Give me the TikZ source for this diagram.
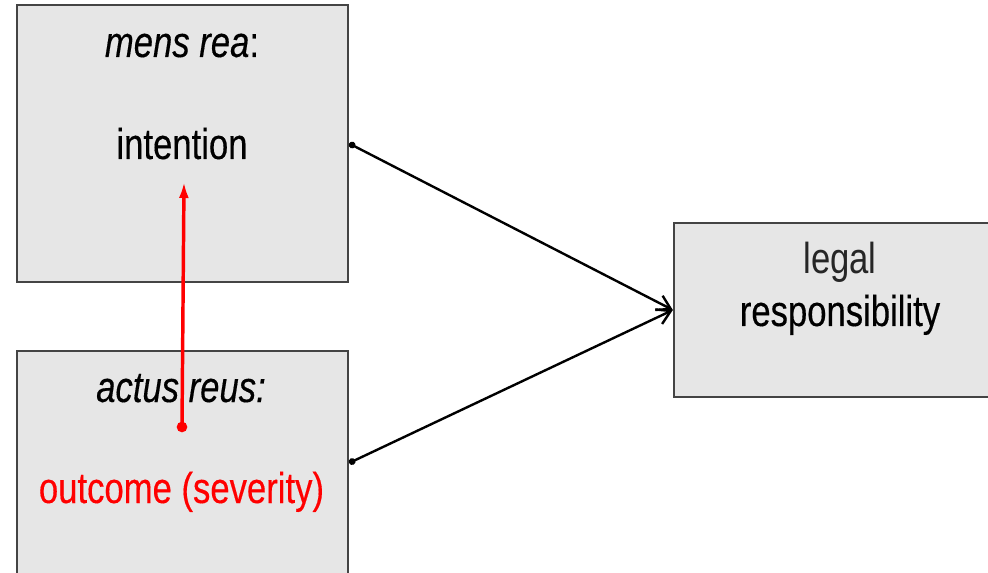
\documentclass[tikz,border=0pt]{standalone}
\usepackage{fontspec}
\setmainfont[FakeStretch=0.8,FakeBold=0.3]{Liberation Sans}
\newfontfamily\lightfont[FakeStretch=0.8]{Liberation Sans}
\usetikzlibrary{arrows.meta}
\definecolor{boxgray}{HTML}{E6E6E6}
\definecolor{edgegray}{HTML}{444444}
\begin{document}
\begin{tikzpicture}[x=0.75pt,y=-0.75pt,
  box/.style={draw=edgegray,line width=1.7pt,fill=boxgray,inner sep=0},
  txt/.style={anchor=base,inner sep=0,font=\fontsize{32.5}{38}\selectfont},
  link/.style={line width=1.8pt,{Circle[length=5pt]}-{Straight Barb[length=10pt,width=12pt]}},
  push/.style={red,line width=2.6pt,-{Latex[length=12pt,width=7.5pt]}},
  dot/.style={circle,fill=red,inner sep=0,minimum size=8pt}]
\useasboundingbox (0,0) rectangle (988,573);
\clip (0,0) rectangle (988,573);
\fill[white] (0,0) rectangle (988,573);
\node[box,minimum width=248.25pt,minimum height=207.75pt] (mens) at (182.5,143.5) {};
\node[box,minimum width=248.25pt,minimum height=168pt] (actus) at (182.5,463) {};
\node[box,minimum width=247.5pt,minimum height=130.5pt] (legal) at (839,310) {};
\node[txt] (mensT) at (182,57) {\textit{mens rea}:};
\node[txt] (intent) at (182,159) {intention};
\node[txt] (actusT) at (181,402) {\textit{actus reus:}};
\node[txt,red] (outcome) at (181.5,503) {outcome (severity)};
\node[txt,black!85] (legalT) at (840,274) {\lightfont legal};
\node[txt] (resp) at (840,326) {responsibility};
\draw[link] (mens.east) -- (legal.west);
\draw[link] (actus.east) -- (legal.west);
\node[dot] (sev) at (182,427) {};
\coordinate (aim) at (184,182);
\draw[push] (sev.center) -- (aim);
\end{tikzpicture}
\end{document}
